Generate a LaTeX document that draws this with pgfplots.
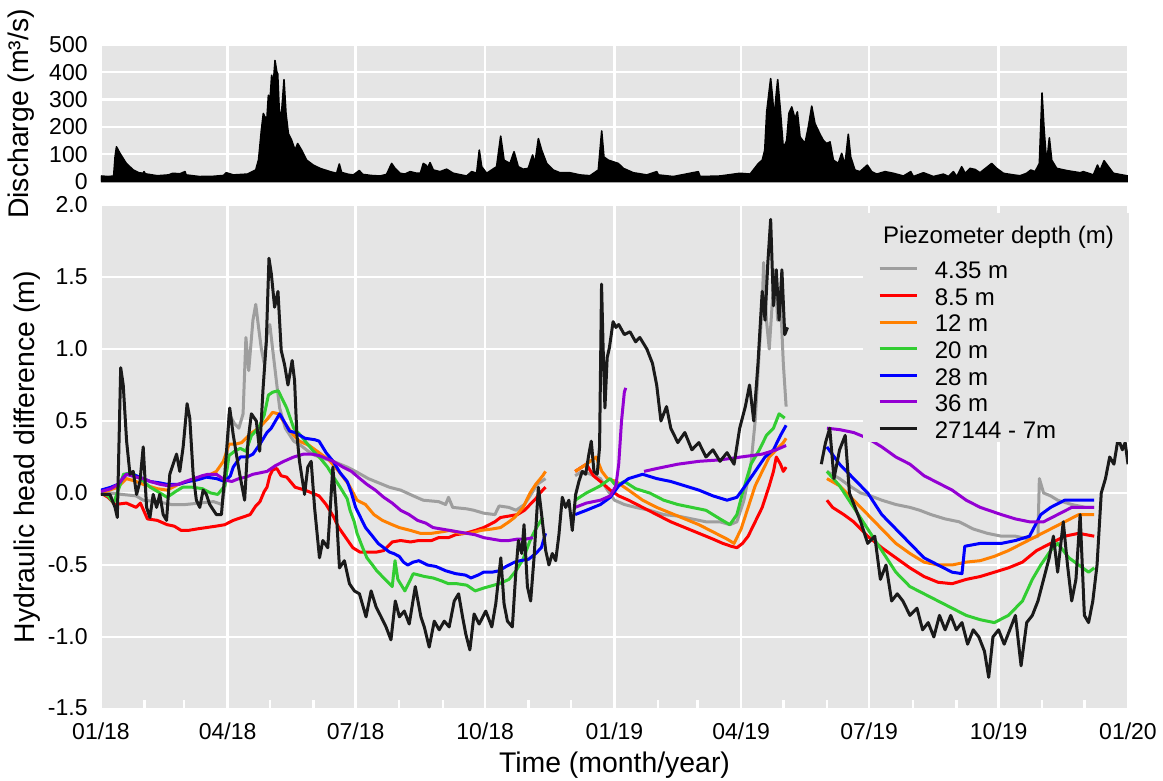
\documentclass[border=0pt]{standalone}
\usepackage{pgfplots}
\pgfplotsset{compat=1.18}
\usepackage{fontspec}
\setmainfont{Liberation Sans}

\definecolor{panel}{RGB}{229,229,229}
\definecolor{c435}{RGB}{158,158,158}
\definecolor{c85}{RGB}{255,0,0}
\definecolor{c12}{RGB}{255,128,0}
\definecolor{c20}{RGB}{50,205,50}
\definecolor{c28}{RGB}{0,0,255}
\definecolor{c36}{RGB}{148,0,211}
\definecolor{c7}{RGB}{26,26,26}

% fixed-height rows for the legend
\newcommand\lrow{\rule{0pt}{11.5pt}}

\begin{document}
\begin{tikzpicture}
\path[use as bounding box] (-50.5pt,-36pt) rectangle (531pt,354.5pt);
\pgfplotsset{
  panelstyle/.style={
    scale only axis, width=513.5pt,
    xmin=0, xmax=730,
    axis line style={draw=none},
    axis background/.style={fill=panel},
    grid=major,
    major grid style={white, line width=1.2pt},
    major tick length=0pt,
    /pgf/number format/assume math mode=true,
    ticklabel style={font=\fontsize{11.5}{13}\selectfont, text=black},
    xtick={0,90,181,273,365,455,546,638,730},
    every axis y label/.style={at={(axis description cs:-0.072,0.5)}, rotate=90, anchor=center, font=\fontsize{14.2}{16}\selectfont},
    every axis x label/.style={at={(axis description cs:0.5,0)}, anchor=center, yshift=-28pt, font=\fontsize{14.2}{16}\selectfont},
    yticklabel style={inner xsep=0pt, xshift=-6.5pt},
    unbounded coords=jump,
  }
}

% ---------------- hydraulic head difference ----------------
\begin{axis}[panelstyle,
  name=head, at={(0,0)}, anchor=south west,
  height=252pt,
  ymin=-1.5, ymax=2.0,
  ytick={-1.5,-1,-0.5,0,0.5,1,1.5,2},
  yticklabels={\raisebox{1pt}{-1.5},-1.0,-0.5,0.0,0.5,1.0,1.5,2.0},
  xticklabels={01/18,04/18,07/18,10/18,01/19,04/19,07/19,10/19,01/20},
  xticklabel style={inner ysep=0pt, yshift=-6.5pt},
  minor xtick={31,59,120,151,212,243,304,334,396,424,485,516,577,608,669,699},
  xtick pos=left, ytick pos=left,
  tick align=inside,
  minor tick length=4.5pt,
  minor x tick style={draw=white, line width=1.2pt},
  xlabel={Time (month/year)},
  ylabel={Hydraulic head difference (m)},
  every axis plot/.append style={line width=1.5pt, line join=round},
  legend cell align=left,
  legend image code/.code={\draw[#1] (0pt,0pt) -- (18.5pt,0pt); \path (26.9pt,0pt);},
  legend style={at={(axis description cs:0.742,0.984)}, anchor=north west,
    fill=panel, draw=none, inner xsep=7.5pt, inner ysep=0pt, outer sep=0pt,
    font=\fontsize{12}{13.3}\selectfont, column sep=0pt, row sep=0pt,
    nodes={inner sep=0pt, text depth=1.8pt}},
]
\addlegendimage{empty legend}
\addlegendentry{\hspace*{-25.9pt}\raisebox{4.2pt}[19.5pt][0pt]{Piezometer depth (m)}}

% 4.35 m
\addplot[c435] coordinates {
(0,0.02)(6,0.0)(15,-0.01)(25,-0.02)(30,-0.05)(40,-0.06)(50,-0.08)(60,-0.08)(70,-0.07)(80,-0.06)(86,-0.08)
(89,0.1)(91,0.55)(95,0.48)(98,0.45)(101,0.55)(103,1.08)(105,0.85)(108,1.2)(110,1.31)(112,1.15)(114,1.0)
(116,0.9)(118,1.1)(120,1.17)(122,1.0)(125,0.75)(127,0.59)(131,0.45)(137,0.36)(142,0.33)(150,0.27)(158,0.24)
(165,0.22)(175,0.18)(181,0.15)(190,0.1)(200,0.06)(205,0.04)(213,0.02)(222,-0.02)(229,-0.05)(240,-0.06)
(245,-0.08)(247,-0.03)(250,-0.1)(260,-0.11)(265,-0.12)(272,-0.14)(280,-0.15)(283,-0.09)(290,-0.1)(295,-0.12)
(301,-0.08)(305,-0.02)(310,0.06)(316,0.1)(326,nan)
(337,0.12)(342,0.15)(348,0.13)(355,0.1)(360,0.02)(365,-0.05)(372,-0.08)(380,-0.1)(390,-0.12)(400,-0.15)
(410,-0.16)(420,-0.18)(430,-0.2)(440,-0.2)(447,-0.22)(452,-0.2)(457,-0.05)(462,0.2)(465,0.5)(468,1.0)
(470,1.3)(471,1.6)(473,1.2)(475,1.0)(477,1.3)(479,1.55)(481,1.2)(483,1.35)(485,0.9)(487,0.6)(500,nan)
(516,0.15)(525,0.1)(532,0.05)(540,0.0)(547,-0.02)(555,-0.05)(565,-0.08)(575,-0.1)(582,-0.12)(590,-0.15)
(600,-0.18)(610,-0.2)(620,-0.25)(630,-0.28)(640,-0.3)(650,-0.3)(660,-0.32)(666,-0.3)(667,0.1)(670,0.0)
(675,-0.02)(680,-0.05)(690,-0.08)(700,-0.1)(706,-0.1)
};
\addlegendentry{\lrow 4.35 m}

% 8.5 m
\addplot[c85] coordinates {
(0,0.0)(5,-0.03)(10,-0.08)(18,-0.07)(25,-0.1)(28,-0.07)(33,-0.18)(40,-0.19)(47,-0.22)(52,-0.23)(57,-0.26)
(62,-0.26)(68,-0.25)(75,-0.24)(82,-0.23)(88,-0.22)(94,-0.19)(100,-0.17)(106,-0.15)(110,-0.09)(113,-0.06)
(116,0.01)(118,0.04)(120,0.12)(122,0.16)(125,0.17)(128,0.12)(132,0.11)(138,0.04)(145,0.02)(150,0.0)
(155,-0.02)(160,-0.08)(165,-0.16)(169,-0.24)(174,-0.31)(179,-0.38)(184,-0.41)(190,-0.41)(196,-0.41)
(201,-0.40)(207,-0.34)(213,-0.33)(220,-0.34)(226,-0.33)(235,-0.33)(240,-0.31)(247,-0.31)(252,-0.29)
(259,-0.28)(266,-0.26)(272,-0.24)(280,-0.2)(284,-0.17)(290,-0.16)(296,-0.15)(301,-0.12)(305,-0.08)
(309,-0.04)(312,0.0)(316,0.04)(326,nan)
(337,0.15)(345,0.2)(350,0.12)(355,0.08)(362,0.02)(368,-0.02)(375,-0.05)(385,-0.1)(395,-0.15)(405,-0.2)
(415,-0.24)(425,-0.28)(435,-0.32)(442,-0.35)(448,-0.37)(452,-0.38)(456,-0.35)(460,-0.3)(465,-0.2)
(470,-0.1)(475,0.05)(478,0.15)(480,0.25)(483,0.2)(485,0.15)(487,0.18)(500,nan)
(516,-0.05)(520,-0.1)(528,-0.15)(535,-0.2)(545,-0.3)(555,-0.38)(565,-0.45)(575,-0.52)(585,-0.58)
(595,-0.62)(605,-0.63)(615,-0.6)(625,-0.58)(635,-0.55)(645,-0.52)(655,-0.48)(665,-0.4)(675,-0.35)
(685,-0.3)(695,-0.28)(706,-0.3)
};
\addlegendentry{\lrow 8.5 m}

% 12 m
\addplot[c12] coordinates {
(0,0.0)(6,0.02)(12,0.04)(18,0.1)(25,0.08)(30,0.06)(40,0.03)(47,0.02)(55,0.06)(62,0.08)(70,0.11)(78,0.13)
(82,0.15)(87,0.22)(91,0.34)(96,0.34)(100,0.35)(106,0.41)(112,0.45)(118,0.51)(122,0.56)(126,0.55)(131,0.48)
(137,0.4)(141,0.36)(148,0.33)(155,0.28)(162,0.23)(169,0.15)(176,0.06)(182,-0.05)(188,-0.08)(194,-0.15)
(200,-0.19)(207,-0.22)(212,-0.24)(220,-0.26)(227,-0.28)(235,-0.28)(242,-0.27)(248,-0.26)(255,-0.28)
(262,-0.28)(270,-0.26)(278,-0.25)(284,-0.24)(290,-0.2)(294,-0.17)(300,-0.1)(305,0.0)(309,0.06)(314,0.12)
(316,0.15)(326,nan)
(337,0.15)(345,0.2)(352,0.25)(356,0.15)(360,0.1)(366,0.08)(375,0.02)(385,-0.05)(395,-0.1)(405,-0.14)
(415,-0.18)(425,-0.22)(435,-0.27)(445,-0.32)(450,-0.35)(455,-0.25)(460,-0.1)(465,0.05)(470,0.15)
(475,0.25)(480,0.3)(485,0.35)(487,0.38)(500,nan)
(516,0.1)(525,0.05)(535,-0.05)(545,-0.15)(555,-0.25)(565,-0.35)(575,-0.42)(585,-0.48)(595,-0.5)
(605,-0.5)(615,-0.48)(625,-0.47)(635,-0.44)(645,-0.4)(655,-0.35)(665,-0.3)(675,-0.25)(685,-0.2)
(695,-0.15)(706,-0.15)
};
\addlegendentry{\lrow 12 m}

% 20 m
\addplot[c20] coordinates {
(0,0.0)(5,-0.02)(9,-0.07)(13,0.04)(16,0.13)(22,0.14)(28,0.1)(35,0.04)(42,0.0)(47,-0.03)(53,0.01)(58,0.04)
(65,0.04)(72,0.03)(78,0.0)(83,-0.01)(88,0.05)(91,0.26)(95,0.29)(99,0.31)(103,0.29)(107,0.4)(112,0.45)
(116,0.54)(119,0.68)(122,0.7)(126,0.71)(129,0.65)(132,0.59)(137,0.45)(141,0.41)(146,0.35)(151,0.29)
(156,0.24)(161,0.18)(166,0.1)(170,0.04)(175,-0.04)(177,-0.12)(180,-0.2)(182,-0.28)(186,-0.38)(189,-0.45)
(193,-0.5)(196,-0.54)(202,-0.6)(207,-0.65)(209,-0.47)(211,-0.6)(216,-0.68)(219,-0.62)(222,-0.56)
(230,-0.58)(236,-0.59)(242,-0.61)(247,-0.63)(253,-0.63)(260,-0.64)(266,-0.68)(272,-0.66)(283,-0.63)
(290,-0.6)(295,-0.54)(300,-0.46)(305,-0.33)(309,-0.25)(314,-0.17)(326,nan)
(337,-0.05)(345,0.0)(355,0.05)(362,0.1)(366,0.05)(372,0.08)(380,0.03)(390,0.0)(400,-0.05)(410,-0.08)
(420,-0.1)(430,-0.12)(440,-0.18)(447,-0.22)(452,-0.15)(456,0.0)(462,0.2)(468,0.3)(473,0.4)(478,0.45)
(482,0.55)(486,0.52)(500,nan)
(516,0.15)(525,0.05)(535,-0.1)(545,-0.25)(555,-0.4)(565,-0.55)(575,-0.65)(585,-0.7)(595,-0.75)(605,-0.8)
(615,-0.85)(625,-0.88)(635,-0.9)(645,-0.85)(655,-0.75)(662,-0.6)(668,-0.5)(675,-0.4)(680,-0.35)
(688,-0.45)(695,-0.5)(702,-0.55)(706,-0.52)
};
\addlegendentry{\lrow 20 m}

% 28 m
\addplot[c28] coordinates {
(0,0.02)(7,0.04)(12,0.06)(18,0.13)(25,0.12)(30,0.1)(35,0.08)(42,0.07)(47,0.06)(55,0.06)(62,0.08)(68,0.09)
(75,0.11)(82,0.1)(88,0.08)(92,0.12)(94,0.18)(99,0.25)(104,0.25)(108,0.27)(113,0.34)(118,0.42)(121,0.45)
(124,0.5)(127,0.55)(130,0.5)(134,0.43)(138,0.42)(145,0.38)(152,0.37)(155,0.36)(160,0.28)(165,0.22)
(170,0.14)(175,0.08)(178,0.0)(181,-0.1)(185,-0.18)(188,-0.24)(193,-0.3)(197,-0.35)(201,-0.38)(205,-0.41)
(208,-0.42)(212,-0.44)(215,-0.48)(218,-0.5)(222,-0.48)(226,-0.47)(232,-0.5)(238,-0.51)(245,-0.54)
(252,-0.56)(259,-0.57)(263,-0.59)(268,-0.57)(272,-0.55)(278,-0.55)(283,-0.54)(288,-0.51)(294,-0.48)
(298,-0.47)(304,-0.46)(309,-0.42)(313,-0.38)(316,-0.28)(326,nan)
(337,-0.15)(345,-0.12)(355,-0.08)(362,-0.03)(368,0.05)(375,0.1)(385,0.13)(395,0.1)(405,0.08)(415,0.05)
(425,0.02)(435,-0.02)(445,-0.05)(452,-0.03)(458,0.05)(465,0.15)(472,0.25)(478,0.3)(483,0.4)(487,0.47)
(500,nan)
(516,0.32)(525,0.2)(535,0.1)(545,0.0)(555,-0.15)(565,-0.25)(575,-0.35)(585,-0.45)(595,-0.5)(605,-0.55)
(612,-0.56)(614,-0.37)(625,-0.35)(640,-0.35)(650,-0.33)(660,-0.3)(668,-0.15)(675,-0.1)(685,-0.05)
(695,-0.05)(706,-0.05)
};
\addlegendentry{\lrow 28 m}

% 36 m
\addplot[c36] coordinates {
(0,0.01)(7,0.03)(12,0.06)(18,0.13)(25,0.11)(30,0.1)(35,0.08)(42,0.06)(48,0.05)(55,0.06)(60,0.08)(66,0.1)
(72,0.12)(76,0.13)(82,0.13)(88,0.09)(93,0.08)(98,0.1)(103,0.11)(108,0.13)(113,0.14)(118,0.15)(124,0.19)
(130,0.22)(137,0.25)(144,0.27)(150,0.27)(155,0.26)(160,0.24)(165,0.22)(172,0.18)(178,0.15)(184,0.1)
(189,0.06)(195,0.02)(201,-0.03)(207,-0.07)(213,-0.12)(219,-0.15)(225,-0.19)(231,-0.21)(236,-0.24)
(242,-0.25)(248,-0.26)(254,-0.27)(260,-0.28)(266,-0.29)(272,-0.31)(278,-0.32)(284,-0.33)(290,-0.33)
(296,-0.32)(302,-0.32)(307,-0.31)(326,nan)
(337,-0.1)(345,-0.07)(355,-0.05)(362,-0.02)(366,0.05)(368,0.2)(370,0.5)(372,0.7)(373,0.73)(380,nan)
(386,0.15)(395,0.17)(410,0.2)(425,0.22)(440,0.23)(455,0.25)(470,0.27)(480,0.3)(487,0.33)(500,nan)
(516,0.45)(525,0.44)(535,0.42)(545,0.38)(555,0.32)(565,0.25)(575,0.2)(585,0.12)(595,0.07)(605,0.02)
(615,-0.05)(625,-0.1)(640,-0.15)(650,-0.18)(660,-0.2)(670,-0.2)(680,-0.15)(690,-0.1)(700,-0.1)(706,-0.1)
};
\addlegendentry{\lrow 36 m}

% 27144 - 7m
\addplot[c7] coordinates {
(0,-0.01)(6.4,-0.01)(10,-0.1)(11.6,-0.17)(14,0.87)(15.8,0.75)(18.2,0.36)(20.6,0.13)(22.9,0.15)(25.3,-0.01)
(27.7,0.08)(30,0.32)(32.4,-0.1)(34.8,-0.17)(37.1,-0.01)(39.5,-0.1)(41.8,-0.01)(44.2,-0.15)(46.6,-0.19)
(48.9,0.13)(53.7,0.27)(56,0.15)(58.4,0.32)(61.2,0.62)(63.1,0.52)(65.5,0.13)(67.8,-0.05)(70.2,-0.1)
(72.6,0.02)(74.9,-0.01)(77.3,-0.08)(82,-0.15)(85.6,-0.15)(88,0.13)(91.5,0.59)(93.9,0.41)(96.2,0.27)
(98.6,0.13)(102.1,-0.05)(104.5,0.36)(106.9,0.55)(110.4,0.5)(112.8,0.29)(115.1,0.71)(117.5,1.05)
(119.4,1.63)(121.1,1.52)(123.4,1.29)(125.8,1.4)(128.1,0.99)(130.5,0.89)(132.9,0.75)(135.9,0.92)
(137.6,0.78)(139.2,0.41)(141.1,0.22)(144.7,-0.01)(147,0.18)(149.4,0.22)(151.8,-0.1)(155.3,-0.45)
(157.7,-0.33)(161.2,-0.38)(164.8,0.18)(167.1,-0.1)(169.5,-0.52)(173,-0.47)(176.6,-0.63)(180.1,-0.68)
(183.7,-0.7)(188.4,-0.86)(192,-0.68)(195.5,-0.79)(199.1,-0.86)(202.6,-0.93)(206.1,-1.02)(209.2,-0.75)
(212.1,-0.86)(215.6,-0.82)(219.1,-0.91)(223.4,-0.65)(227.4,-0.86)(229.8,-0.93)(233.3,-1.07)(236.9,-0.89)
(240.4,-0.95)(244,-0.89)(247.5,-0.93)(251.1,-0.75)(254.2,-0.7)(257,-0.86)(259.3,-0.98)(262.2,-1.09)
(265.2,-0.84)(268.8,-0.91)(273.5,-0.82)(277.8,-0.93)(280.6,-0.77)(284.2,-0.45)(286.5,-0.77)(288.9,-0.89)
(292.4,-0.93)(294.8,-0.56)(296.7,-0.33)(299.1,-0.42)(300.7,-0.22)(303.1,-0.65)(305.4,-0.75)(307.8,-0.45)
(310.9,0.04)(313.2,-0.15)(316.1,-0.4)(318.4,-0.5)(320.8,-0.42)(323.2,-0.47)(325.5,-0.29)(327.9,-0.03)
(330.3,-0.1)(332.6,-0.05)(335,-0.26)(337.4,-0.01)(339.7,0.08)(342.1,0.15)(344.5,0.13)(346.8,0.27)
(348.5,0.36)(350.4,0.15)(352.7,0.13)(354.4,0.32)(355.8,1.45)(356.8,1.05)(358.2,0.59)(359.8,0.94)
(361.4,1.01)(364,1.19)(366,1.15)(368,1.17)(372,1.1)(376,1.12)(380,1.05)(383,1.08)(388,1.0)(392,0.9)
(395,0.75)(398,0.5)(402,0.6)(405,0.45)(410,0.35)(415,0.42)(420,0.3)(425,0.35)(430,0.25)(435,0.3)
(440,0.22)(445,0.28)(450,0.2)(454,0.45)(458,0.6)(461,0.75)(464,0.5)(467,0.9)(470,1.4)(472,1.2)(474,1.6)
(476,1.9)(478,1.3)(480,1.55)(482,1.2)(484,1.55)(486,1.1)(488,1.15)(500,nan)
(512,0.2)(515,0.35)(518,0.45)(521,0.1)(525,0.3)(529,0.4)(532,0.0)(536,-0.1)(540,-0.2)(545,-0.35)
(550,-0.3)(554,-0.6)(558,-0.5)(562,-0.75)(566,-0.7)(570,-0.75)(575,-0.85)(580,-0.8)(584,-0.95)(588,-0.9)
(592,-1.0)(596,-0.85)(600,-0.95)(604,-0.85)(608,-0.95)(612,-0.9)(616,-1.05)(620,-0.95)(624,-1.0)
(628,-1.1)(631,-1.28)(634,-1.0)(638,-0.95)(642,-1.05)(646,-0.95)(650,-0.85)(654,-1.2)(658,-0.9)
(662,-0.85)(666,-0.75)(670,-0.6)(674,-0.45)(677,-0.3)(680,-0.55)(684,-0.2)(687,-0.5)(690,-0.75)
(693,-0.6)(696,-0.15)(699,-0.85)(702,-0.9)(705,-0.75)(708,-0.5)(711,0.0)(714,0.1)(717,0.25)(720,0.2)
(723,0.38)(726,0.3)(728,0.35)(730,0.2)
};
\addlegendentry{\lrow 27144 - 7m}
\end{axis}

% ---------------- discharge ----------------
\begin{axis}[panelstyle,
  name=flow, at={(0,263pt)}, anchor=south west,
  height=69pt,
  ymin=-5.5, ymax=500,
  ytick={0,100,200,300,400,500},
  xticklabels={},
  ylabel={Discharge (m³/s)},
  ylabel style={at={(axis description cs:-0.078,0.5)}},
]
\addplot[draw=black, fill=black, line width=0.8pt, line join=round] coordinates {
(0,20)(5,18)(9,20)(10,90)(11,127)(13.5,103)(18,66)(23,42)(27,32)(30,30)(30.6,36)(31.5,28)(40,21)(48,24)
(51,30)(56,28)(59.7,36)(60.5,24)(70,18)(80,19)(87,22)(89,32)(94,24)(104,27)(110,42)(112,80)(114,188)
(115.4,249)(116.5,236)(118,236)(119,316)(120,285)(121.3,389)(122.5,360)(123.7,443)(125,400)(125.6,395)
(126.8,249)(128.4,255)(130.1,373)(131.5,249)(133.2,175)(135.5,151)(137.9,115)(139.8,139)(142.6,115)
(146.2,78)(150.9,60)(155.7,48)(162.8,36)(167.5,30)(169.4,64)(171,33)(176,26)(179.4,24)(183.6,40)(186,26)
(192,22)(198.3,20)(203,26)(206.6,66)(209,48)(212.5,30)(216,27)(219.7,36)(224.4,30)(227,30)(229.1,66)
(231,60)(232,48)(233.9,69)(236.2,42)(241,36)(245.7,45)(250.4,30)(259.9,20)(263.5,36)(267,30)(268.9,115)
(270.6,54)(274.1,30)(281.2,54)(284.1,166)(286.5,78)(290.7,66)(293.6,109)(296.6,54)(300.2,45)(303.7,48)
(306.8,97)(308.4,66)(310.9,157)(313.2,115)(316.8,66)(321.5,42)(326.2,32)(333.3,32)(340.5,24)(347.6,21)
(353.5,42)(355.9,185)(357.5,90)(360.6,78)(364.2,72)(367.7,66)(371.3,48)(378.4,32)(387.9,24)(395,36)
(396.2,24)(406.8,18)(424.6,36)(425.8,18)(440,20)(454.2,30)(461.4,27)(467.3,66)(470,78)(471.8,115)
(473.2,255)(476,377)(477.5,300)(478.4,224)(479.6,300)(481,373)(483,255)(485,121)(487.4,150)(489,250)
(491,273)(493.3,230)(495,255)(496.9,163)(500.4,139)(502.8,200)(505.2,276)(507.5,212)(511.1,173)
(513.5,150)(515.8,139)(518.2,145)(520.6,78)(524.1,66)(526.5,103)(528.8,60)(531.2,173)(532.9,90)
(535.9,42)(539.5,36)(544.7,60)(547.8,36)(551.4,27)(557.3,36)(563.2,30)(570.4,20)(575.6,36)(577.4,18)
(584.6,32)(591.7,18)(598.8,27)(602.4,18)(605.9,36)(608.3,18)(611.8,54)(614.2,30)(617.7,48)(621.3,44)
(624.8,32)(633.1,66)(636.7,48)(641.4,30)(648.5,24)(653.3,21)(658,30)(660.9,42)(664,36)(667,66)
(668.9,324)(670.4,188)(672.2,66)(674.1,160)(675.8,78)(679.3,48)(686.4,40)(695.9,32)(698.3,36)(705.4,24)
(708.3,60)(710.1,40)(713,76)(716.1,54)(719.6,30)(729.1,21)(730,20)
} \closedcycle;
\end{axis}
\end{tikzpicture}
\end{document}
